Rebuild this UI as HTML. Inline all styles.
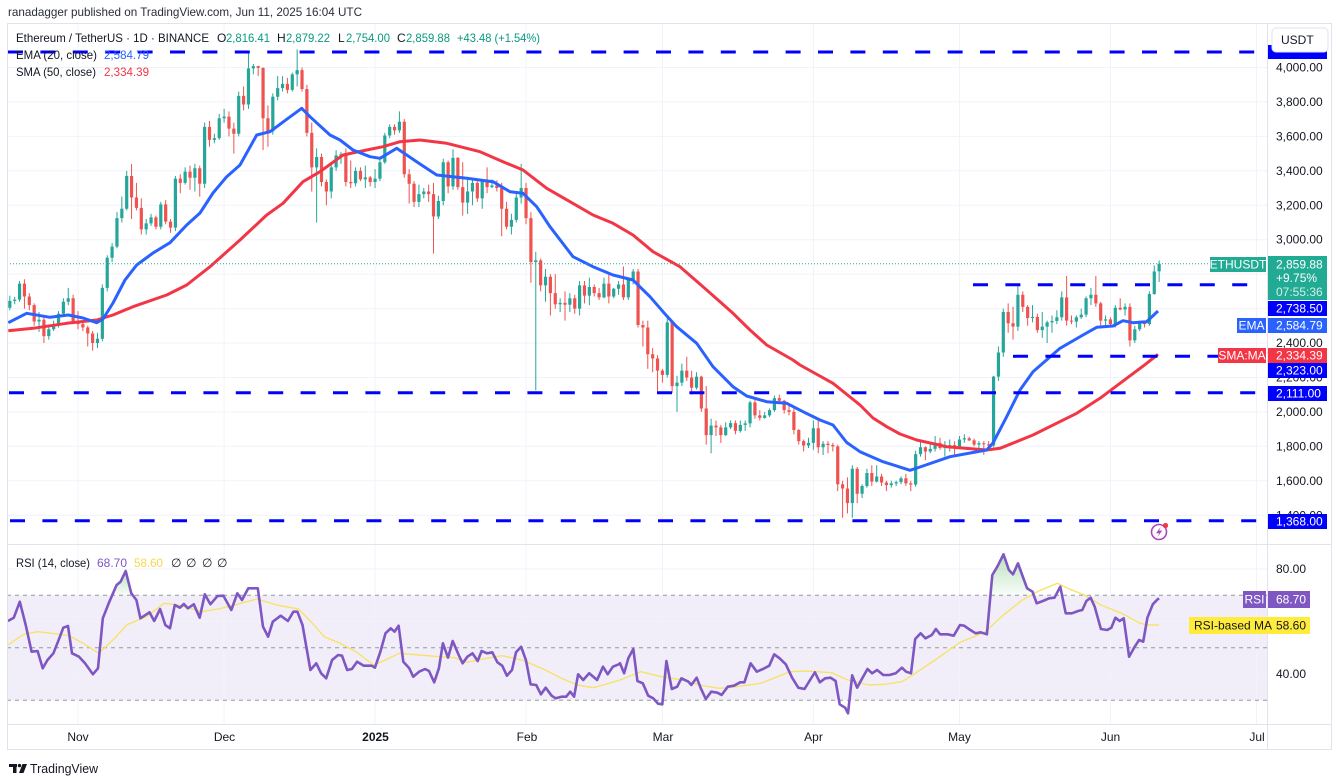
<!DOCTYPE html>
<html><head><meta charset="utf-8">
<style>
html,body{margin:0;padding:0;background:#fff;}
svg{display:block;font-family:"Liberation Sans",sans-serif;}
</style></head>
<body>
<svg width="1338" height="783" viewBox="0 0 1338 783" xmlns="http://www.w3.org/2000/svg">
<defs>
<clipPath id="cp"><rect x="7" y="23" width="1260" height="521"/></clipPath>
<clipPath id="cr"><rect x="7" y="545" width="1260" height="179"/></clipPath>
<clipPath id="ob"><rect x="7" y="545" width="1260" height="50.25"/></clipPath>
<linearGradient id="gg" x1="0" y1="0" x2="0" y2="1"><stop offset="0" stop-color="#4caf50" stop-opacity="0.38"/><stop offset="1" stop-color="#4caf50" stop-opacity="0.04"/></linearGradient>
</defs>
<rect width="1338" height="783" fill="#fff"/>

<!-- RSI band -->
<rect x="7" y="595.25" width="1260" height="105" fill="#7e57c2" fill-opacity="0.1"/>

<!-- grid -->
<g stroke="#f0f3fa" stroke-width="1">
<line x1="78" y1="23" x2="78" y2="724"/>
<line x1="224.1" y1="23" x2="224.1" y2="724"/>
<line x1="375" y1="23" x2="375" y2="724"/>
<line x1="526" y1="23" x2="526" y2="724"/>
<line x1="662.4" y1="23" x2="662.4" y2="724"/>
<line x1="813.4" y1="23" x2="813.4" y2="724"/>
<line x1="959.5" y1="23" x2="959.5" y2="724"/>
<line x1="1110.4" y1="23" x2="1110.4" y2="724"/>
<line x1="1256.5" y1="23" x2="1256.5" y2="724"/>
<line x1="7" y1="67.5" x2="1267" y2="67.5"/>
<line x1="7" y1="101.9" x2="1267" y2="101.9"/>
<line x1="7" y1="136.4" x2="1267" y2="136.4"/>
<line x1="7" y1="170.8" x2="1267" y2="170.8"/>
<line x1="7" y1="205.3" x2="1267" y2="205.3"/>
<line x1="7" y1="239.7" x2="1267" y2="239.7"/>
<line x1="7" y1="274.1" x2="1267" y2="274.1"/>
<line x1="7" y1="308.6" x2="1267" y2="308.6"/>
<line x1="7" y1="343" x2="1267" y2="343"/>
<line x1="7" y1="377.5" x2="1267" y2="377.5"/>
<line x1="7" y1="411.9" x2="1267" y2="411.9"/>
<line x1="7" y1="446.3" x2="1267" y2="446.3"/>
<line x1="7" y1="480.8" x2="1267" y2="480.8"/>
<line x1="7" y1="515.2" x2="1267" y2="515.2"/>
<line x1="7" y1="569" x2="1267" y2="569"/>
<line x1="7" y1="621.5" x2="1267" y2="621.5"/>
<line x1="7" y1="674" x2="1267" y2="674"/>
</g>

<!-- candles -->
<g clip-path="url(#cp)">
<g transform="matrix(4.87 0 0 -0.1722 78 756.3)" fill="none">
<path vector-effect="non-scaling-stroke" stroke="#26a69a" stroke-width="1" d="M-14 2590V2675M-13 2625V2668M-12 2640V2760M-8 2465V2580M-6 2420V2500M-5 2470V2530M-4 2490V2585M-3 2560V2660M-2 2620V2720M4 2370V2460M5 2410V2740M6 2700V2910M7 2870V2980M8 2950V3160M9 3100V3250M10 3170V3400M14 3030V3120M15 3080V3150M17 3060V3220M20 3050V3370M22 3320V3420M24 3280V3440M26 3300V3680M28 3560V3615M29 3580V3730M30 3680V3760M33 3600V3860M35 3760V4090M36 3960V4020M40 3610V3850M41 3810V3950M42 3860V3950M44 3860V3970M45 3890V4105M49 3100V3530M52 3240V3440M53 3400V3520M54 3440V3510M57 3310V3420M59 3300V3430M61 3300V3410M62 3340V3480M63 3440V3620M64 3590V3670M66 3620V3745M70 3190V3320M71 3240V3300M74 3120V3255M75 3200V3470M77 3290V3525M80 3150V3360M81 3200V3350M83 3180V3350M85 3300V3350M89 3030V3150M90 3100V3280M91 3210V3440M94 2125V2930M96 2640V2830M99 2580V2660M101 2580V2690M103 2560V2760M105 2620V2780M108 2660V2780M110 2660V2720M111 2680V2760M113 2650V2780M114 2740V2830M121 2200V2550M123 2000V2210M124 2150V2280M127 2130V2230M130 1760V1960M133 1860V1940M134 1900V1950M136 1880V1950M137 1890V1950M138 1910V2065M141 1960V2000M142 1970V2020M143 2000V2095M150 1790V1850M151 1780V1950M153 1750V1830M159 1385V1690M161 1500V1580M162 1560V1670M164 1590V1690M167 1560V1600M168 1570V1600M169 1580V1625M172 1565V1775M173 1740V1830M175 1760V1820M176 1770V1860M178 1740V1830M179 1770V1840M181 1790V1860M182 1820V1870M185 1790V1830M188 1795V2210M189 2180V2380M190 2320V2600M193 2470V2740M196 2520V2620M198 2430V2580M199 2400V2530M200 2460V2560M201 2510V2590M202 2530V2700M205 2490V2560M206 2540V2600M207 2550V2670M208 2620V2720M211 2500V2560M213 2490V2620M215 2560V2630M217 2400V2500M218 2470V2530M220 2500V2700M221 2680V2850M222 2754V2879"/>
<path vector-effect="non-scaling-stroke" stroke="#26a69a" stroke-width="3.2" d="M-14 2605V2645M-13 2645V2652M-12 2652V2745M-8 2525V2535M-6 2440V2480M-5 2480V2510M-4 2510V2570M-3 2570V2640M-2 2640V2660M4 2400V2425M5 2425V2720M6 2720V2895M7 2895V2960M8 2960V3125M9 3125V3180M10 3180V3370M14 3060V3095M15 3095V3130M17 3075V3205M20 3070V3355M22 3330V3395M24 3360V3415M26 3325V3655M28 3580V3590M29 3590V3705M30 3705V3715M33 3615V3835M35 3785V3995M36 3995V4008M40 3630V3830M41 3830V3880M42 3880V3905M44 3870V3960M45 3960V3985M49 3420V3480M52 3280V3420M53 3420V3490M54 3490V3496M57 3328V3400M59 3350V3362M61 3335V3355M62 3355V3450M63 3450V3605M64 3605V3655M66 3635V3685M70 3220V3265M71 3265V3280M74 3135V3225M75 3225V3450M77 3310V3475M80 3215V3280M81 3280V3330M83 3240V3340M85 3305V3315M89 3075V3115M90 3115V3245M91 3245V3300M94 2870V2880M96 2735V2785M99 2625V2633M101 2622V2660M103 2600V2735M105 2675V2725M108 2665V2745M110 2670V2715M111 2715V2740M113 2665V2765M114 2765V2815M121 2215V2520M123 2150V2170M124 2170V2240M127 2140V2205M130 1865V1920M133 1865V1910M134 1910V1935M136 1890V1925M137 1925V1933M138 1933V2055M141 1965V1980M142 1980V2010M143 2010V2080M150 1805V1820M151 1820V1905M153 1795V1815M159 1470V1670M161 1525V1570M162 1570V1645M164 1595V1625M167 1575V1585M168 1585V1592M169 1592V1615M172 1578V1755M173 1755V1795M175 1770V1785M176 1785V1820M178 1790V1800M179 1800V1807M181 1795V1840M182 1840V1847M185 1810V1818M188 1805V2205M189 2205V2345M190 2345V2580M193 2495V2680M196 2545V2552M198 2475V2495M199 2495V2520M200 2520V2528M201 2528V2550M202 2550V2665M205 2524V2550M206 2550V2565M207 2565V2660M208 2660V2680M211 2530V2537M213 2510V2605M215 2595V2610M217 2415V2480M218 2480V2525M220 2510V2685M221 2685V2815M222 2816V2860"/>
<path vector-effect="non-scaling-stroke" stroke="#ef5350" stroke-width="1" d="M-11 2600V2770M-10 2590V2690M-9 2500V2630M-7 2400V2555M-1 2510V2680M0 2480V2585M1 2470V2520M2 2380V2500M3 2355V2470M11 3120V3440M12 3170V3330M13 3030V3240M16 3060V3140M18 3090V3230M19 3040V3120M21 3270V3380M23 3290V3430M25 3250V3430M27 3540V3690M31 3600V3745M32 3500V3680M34 3750V3890M37 3950V4010M38 3520V4000M39 3540V3780M43 3850V3940M46 3860V4000M47 3600V3900M48 3280V3680M50 3310V3500M51 3200V3350M55 3310V3530M56 3300V3460M58 3340V3420M60 3310V3370M65 3610V3670M67 3360V3700M68 3210V3410M69 3190V3340M72 3220V3320M73 2920V3330M76 3270V3460M78 3290V3480M79 3140V3450M82 3220V3340M84 3270V3420M86 3280V3345M87 3020V3330M88 3060V3220M92 3090V3330M93 2750V3160M95 2700V2890M97 2560V2800M98 2600V2800M100 2530V2700M102 2570V2680M104 2630V2760M106 2670V2740M107 2650V2720M109 2630V2810M112 2650V2845M115 2490V2830M116 2380V2530M117 2250V2530M118 2230V2370M119 2120V2330M120 2170V2250M122 2110V2525M125 2180V2320M126 2100V2240M128 2000V2210M129 1810V2150M131 1860V1950M132 1820V1925M135 1870V1950M139 1960V2070M140 1950V2010M144 2050V2100M145 1990V2070M146 1980V2040M147 1870V2020M148 1810V1900M149 1770V1840M152 1760V1950M154 1760V1830M155 1770V1820M156 1540V1810M157 1385V1600M158 1410V1620M160 1470V1680M163 1570V1690M165 1570V1640M166 1540V1600M170 1570V1640M171 1540V1600M174 1720V1800M177 1780V1850M180 1750V1830M183 1830V1855M184 1800V1845M186 1750V1830M187 1780V1830M191 2460V2630M192 2420V2610M194 2580V2700M195 2500V2620M197 2460V2570M203 2500V2790M204 2510V2560M209 2610V2790M210 2500V2640M212 2490V2550M214 2590V2660M216 2380V2630M219 2490V2530"/>
<path vector-effect="non-scaling-stroke" stroke="#ef5350" stroke-width="3.2" d="M-11 2745V2670M-10 2670V2620M-9 2620V2525M-7 2535V2440M-1 2660V2520M0 2520V2510M1 2510V2490M2 2490V2455M3 2455V2400M11 3370V3245M12 3245V3185M13 3185V3060M16 3130V3075M18 3205V3105M19 3105V3070M21 3355V3330M23 3395V3360M25 3415V3325M27 3655V3580M31 3715V3645M32 3645V3615M34 3835V3785M37 4008V3998M38 3998V3705M39 3705V3630M43 3905V3870M46 3985V3875M47 3875V3620M48 3620V3420M50 3480V3335M51 3335V3280M55 3496V3335M56 3335V3328M58 3400V3350M60 3362V3335M65 3655V3635M67 3685V3380M68 3380V3325M69 3325V3220M72 3280V3265M73 3265V3135M76 3450V3310M78 3475V3305M79 3305V3215M82 3330V3240M84 3340V3305M86 3315V3300M87 3300V3180M88 3180V3075M92 3300V3125M93 3125V2870M95 2880V2735M97 2785V2690M98 2690V2625M100 2633V2622M102 2660V2600M104 2735V2675M106 2725V2690M107 2690V2665M109 2745V2670M112 2740V2665M115 2815V2505M116 2505V2490M117 2490V2335M118 2335V2310M119 2310V2240M120 2240V2215M122 2520V2150M125 2240V2200M126 2200V2140M128 2205V2020M129 2020V1865M131 1920V1910M132 1910V1865M135 1935V1890M139 2055V1980M140 1980V1965M144 2080V2065M145 2065V2010M146 2010V2000M147 2000V1895M148 1895V1830M149 1830V1805M152 1905V1795M154 1815V1808M155 1808V1800M156 1800V1580M157 1580V1555M158 1555V1470M160 1670V1525M163 1645V1595M165 1625V1590M166 1590V1575M170 1615V1585M171 1585V1578M174 1795V1770M177 1820V1790M180 1807V1795M183 1847V1835M184 1835V1810M186 1818V1812M187 1812V1805M191 2580V2515M192 2515V2495M194 2680V2610M195 2610V2545M197 2552V2475M203 2665V2530M204 2530V2524M209 2680V2630M210 2630V2530M212 2537V2510M214 2605V2595M216 2610V2415M219 2525V2510"/>
</g>
<!-- SMA 50 -->
<polyline fill="none" stroke="#f23645" stroke-width="3" stroke-linejoin="round" points="8.3,330.7 33,328.3 66.7,323.3 96.7,320 113,315 133,306.7 166.7,295 186.7,285 210,266.7 240,240 266.7,215 283,203.3 303,181.7 320,171.7 343,155 366.7,150 383,146.7 400,141.7 420,140 446.7,143.3 480,151.7 503,161.7 523,170 546.7,188.3 570,201.7 593,215 613,223.3 633,235 653,251.7 680,266.7 706.7,290 733,313.3 750,330 766.7,345 793,360 800,365 833,383.3 860,405 873,418 886.7,426.7 900,434 916.7,440 946.7,446.7 986.7,450 1000,448.3 1033,435 1076.7,413.3 1100,398.3 1126.7,378.3 1146.7,363.3 1158,354.3"/>
<!-- EMA 20 -->
<polyline fill="none" stroke="#2962ff" stroke-width="3" stroke-linejoin="round" points="8.3,322.7 26.7,313.3 50,317.3 68.3,315 83,318 96.7,322.7 103,319 113,303 125,280 136.7,265 153,253 170,242.7 186.7,225 200,213 213,193 226.7,176.7 240,165 256.7,135 270,131.7 286.7,119.3 301.7,108.3 310,116.7 330,135 340,140 353,150 370,156.7 380,158.3 396.7,148.3 420,164 436.7,175 466.7,178.3 493,181.7 510,191.7 523,193.3 536.7,206.7 550,226.7 573,256.7 593,266.7 613,275 633,280 650,296.7 663,311.7 676.7,326.7 696.7,343.3 713,366.7 733,386.7 746.7,396 766.7,401.7 786.7,403.3 803,411.7 820,420 833,425 846.7,442.5 860,451.7 883,461.7 910,470.3 920,467 950,456.7 986.7,450 993,443 1006.7,416.7 1020,390 1033,371.7 1060,348.3 1083,335 1096.7,327.3 1113,326 1123,320.7 1133,322.7 1146.7,321.7 1158,311"/>
</g>

<!-- last price dotted line -->
<line x1="7" y1="263.8" x2="1210" y2="263.8" stroke="#26a69a" stroke-width="1" stroke-dasharray="1 2"/>

<!-- drawn dashed lines -->
<g stroke="#0000ff" stroke-width="3" stroke-dasharray="15 17.4" fill="none">
<line x1="8" y1="52" x2="1259" y2="52"/>
<line x1="973" y1="284.7" x2="1259" y2="284.7"/>
<line x1="1013" y1="356.3" x2="1259" y2="356.3"/>
<line x1="9" y1="392.8" x2="1259" y2="392.8"/>
<line x1="10" y1="520.7" x2="1259" y2="520.7"/>
</g>

<!-- RSI dashed levels -->
<g stroke="#9598a1" stroke-width="1" stroke-dasharray="4 4">
<line x1="7" y1="595.25" x2="1267" y2="595.25"/>
<line x1="7" y1="647.75" x2="1267" y2="647.75"/>
<line x1="7" y1="700.25" x2="1267" y2="700.25"/>
</g>

<!-- RSI -->
<g clip-path="url(#cr)">
<g clip-path="url(#ob)">
<polygon fill="url(#gg)" points="112,595.25 116.6,585 120.6,581.7 125.7,571 131.3,593.3 132,595.25"/>
<polygon fill="url(#gg)" points="991,595.25 992.3,575 997.3,566.7 1003.5,554.3 1008.9,570 1013,574.3 1018,563.3 1022.2,575 1027.1,588.3 1029.5,595.25"/>
</g>
<polyline fill="none" stroke="#f7e26b" stroke-width="1.4" stroke-linejoin="round" points="7.9,645 23.7,634.3 37.6,631.7 51.4,633.3 69.2,635.7 83,643.3 98.9,653.3 114.7,638.3 126.5,625 146.3,616.7 164.1,603.3 177.9,605 201.7,611.7 221.4,608.3 237.2,604.3 257,599 276.8,605 298.5,609 312.4,623.3 324.2,636.7 340,643.3 355.9,651.7 373.7,665 385.5,660 399.4,653.3 419.1,655 438.9,656.7 454.7,657.7 466.6,662.3 486.4,658.3 502.2,655.7 521.9,660 541.7,668.3 561.5,678.3 577.3,685 593.1,687.7 608.9,683.3 620,680 640.7,671.7 661.5,676.7 682.2,680 702.9,685.7 719.5,688.3 736.1,686.7 761,683.3 777.5,676.7 790,671.7 806.6,671 831.4,672.7 848,680 868.8,685 885.3,684.3 901.9,681.7 910.2,676.7 935.1,660 960,642.3 984.8,632.3 1001.4,616.7 1022.2,600 1038.8,591 1057.4,583.3 1067.7,588.3 1084.3,595 1100.9,605 1121.7,613.3 1138.2,622.3 1146.5,625 1159,625"/>
<polyline fill="none" stroke="#7e57c2" stroke-width="2.6" stroke-linejoin="round" points="7.9,621 13.8,617.7 19.8,601.7 25.7,625 31.6,651.7 37.6,651 42.7,668.3 47.5,660 53.4,653.3 59.3,638.3 63.3,627.7 68,626 72,653.3 79,656.7 85,663.3 92.9,674.3 98,668.3 102.8,618.3 108.7,603.3 116.6,585 120.6,581.7 125.7,571 131.3,593.3 136.4,600 140.4,618.3 149.5,612.3 154.2,621 160.1,609 165.3,625 170,628.3 174.8,605 179.9,607.7 183.9,604 187.8,608.3 193.8,604.3 199.7,617.7 204.8,594.3 210.4,604.3 217.5,596 223.4,595.7 231.3,610 237.3,593.3 242,600 248.3,588.3 257.8,588.3 263,626.7 268.1,636.7 272.8,621.7 280.7,615.7 287.9,621 293.4,611.7 297.4,611.7 302.5,625 310.4,670 316.3,663.3 321.1,673.3 326.2,678.3 332.1,660 338.1,655 342,655.7 347.2,670 351.9,669 357.1,661.7 363.8,665.7 371.7,665.7 374.9,667.7 380.4,651.7 385.5,633.3 390.7,628.3 394.6,631.7 398.6,625.7 403.3,661.7 409.3,668.3 413.2,676.7 419.1,671.7 425.1,669 429,671 434.2,682.3 438.9,668.3 442.9,643.3 448,657.7 452.7,641 458.7,655 462.6,663.3 467.4,656.7 472.5,653.3 477.7,661 481.6,651 487.1,653.3 492.3,652.3 497.4,662.3 502.2,665.7 506.9,675.7 512,670 516,652.3 521.1,646.7 525.9,660 530.6,684.3 536.2,685 540.9,694.3 545.7,687.7 551.6,695.7 555.6,698.3 561.5,696.7 566.2,696.7 570.2,691.7 574.1,696.7 578.1,674.3 583.2,680 589.2,673.3 597.1,680 603,666.7 607.7,674.3 612.9,666.7 618.8,664.3 620,663.3 624.1,673.3 628.3,658.3 633.3,649 637.4,681 642.8,683.3 648.2,695.7 653.2,698.3 658.1,703.7 662.3,704.3 666.4,661 671.8,689 677.2,686.7 681.4,678.3 688.4,681.7 691.3,685 696.7,677.7 700.8,688.3 705.8,699 711.2,691.7 717.4,692.7 721.6,695 727.8,686.7 734,685.7 740.2,682.3 744.4,682.3 750.6,663.3 756.8,671.7 763,669 769.3,665.7 774.2,654.3 779.6,658.3 785.8,664.3 792.1,677.7 798.3,687.7 804.5,689 810.7,679 814.9,672.3 819.8,682.3 825.2,678.3 830.6,677.7 835.6,681 839.7,704.3 845.1,707.7 848,713.3 852.2,675.3 857.1,687.7 861.3,680 867.5,669 872.1,673.3 877.1,670 883.3,675 889.5,675 895.7,673.3 901.9,667.7 906.1,671.7 911,673.3 915.2,639 920.6,633.3 925.5,638.3 931.8,635 935.9,629 940.1,634.3 947.5,634.3 953.7,635.7 960,625 964.1,625.7 970.3,630 975.7,633.3 980.7,632.3 986.9,634.3 992.3,575 997.3,566.7 1003.5,554.3 1008.9,570 1013,574.3 1018,563.3 1022.2,575 1027.1,588.3 1032.5,591.7 1036.7,603.3 1042.9,601 1049.1,598.3 1054.5,597.7 1060.3,586.7 1065.7,613.3 1071.9,613.3 1078.1,611 1082.3,610 1086.4,601 1090.6,597.7 1094.7,606.7 1100.9,629 1107.2,630 1111.3,627.7 1115.4,617.7 1119.6,621 1123.7,618.3 1129.1,656.7 1134.1,647.7 1139.1,640 1143.2,641.7 1147.4,617.7 1152.8,604.3 1156.9,600 1159,598.3"/>
</g>

<!-- frame / separators -->
<g stroke="#e0e3eb" stroke-width="1" fill="none">
<rect x="7.5" y="23.5" width="1324" height="726"/>
<line x1="7" y1="544.5" x2="1332" y2="544.5"/>
<line x1="7" y1="724.5" x2="1332" y2="724.5"/>
<line x1="1267.5" y1="23" x2="1267.5" y2="750"/>
</g>

<!-- title -->
<text x="8" y="16" font-size="12" fill="#2a2e39" textLength="354" lengthAdjust="spacingAndGlyphs">ranadagger published on TradingView.com, Jun 11, 2025 16:04 UTC</text>

<!-- legend -->
<g font-size="12">
<text x="16" y="42" fill="#131722" textLength="193" lengthAdjust="spacingAndGlyphs">Ethereum / TetherUS · 1D · BINANCE</text>
<text x="217" y="42" fill="#131722">O</text><text x="226" y="42" fill="#089981" textLength="44" lengthAdjust="spacingAndGlyphs">2,816.41</text>
<text x="277" y="42" fill="#131722">H</text><text x="286" y="42" fill="#089981" textLength="44" lengthAdjust="spacingAndGlyphs">2,879.22</text>
<text x="338" y="42" fill="#131722">L</text><text x="346" y="42" fill="#089981" textLength="44" lengthAdjust="spacingAndGlyphs">2,754.00</text>
<text x="397" y="42" fill="#131722">C</text><text x="406" y="42" fill="#089981" textLength="44" lengthAdjust="spacingAndGlyphs">2,859.88</text>
<text x="457" y="42" fill="#089981" textLength="83" lengthAdjust="spacingAndGlyphs">+43.48 (+1.54%)</text>
<text x="16" y="59" fill="#131722" textLength="81" lengthAdjust="spacingAndGlyphs">EMA (20, close)</text>
<text x="104" y="59" fill="#2962ff" textLength="45" lengthAdjust="spacingAndGlyphs">2,584.79</text>
<text x="16" y="76" fill="#131722" textLength="80" lengthAdjust="spacingAndGlyphs">SMA (50, close)</text>
<text x="104" y="76" fill="#f23645" textLength="45" lengthAdjust="spacingAndGlyphs">2,334.39</text>
<text x="16" y="567" fill="#131722" textLength="74" lengthAdjust="spacingAndGlyphs">RSI (14, close)</text>
<text x="97" y="567" fill="#7e57c2" textLength="30" lengthAdjust="spacingAndGlyphs">68.70</text>
<text x="134" y="567" fill="#f7d74a" textLength="29" lengthAdjust="spacingAndGlyphs">58.60</text>
<text x="171" y="567" fill="#131722">∅</text>
<text x="186" y="567" fill="#131722">∅</text>
<text x="202" y="567" fill="#131722">∅</text>
<text x="217" y="567" fill="#131722">∅</text>
</g>

<!-- price axis labels -->
<g font-size="12" fill="#131722">
<text x="1276" y="71.5">4,000.00</text>
<text x="1276" y="106">3,800.00</text>
<text x="1276" y="140.4">3,600.00</text>
<text x="1276" y="174.8">3,400.00</text>
<text x="1276" y="209.3">3,200.00</text>
<text x="1276" y="243.7">3,000.00</text>
<text x="1276" y="347.2">2,400.00</text>
<text x="1276" y="381.6">2,200.00</text>
<text x="1276" y="416">2,000.00</text>
<text x="1276" y="450.5">1,800.00</text>
<text x="1276" y="484.9">1,600.00</text>
<text x="1276" y="519.4">1,400.00</text>
<text x="1276" y="573">80.00</text>
<text x="1276" y="678">40.00</text>
</g>

<!-- axis boxes -->
<rect x="1268" y="45" width="59" height="14" fill="#0000ff"/>
<rect x="1272" y="28" width="56" height="24" rx="4" fill="#fff" stroke="#e0e3eb"/>
<text x="1281" y="44" font-size="12" fill="#131722">USDT</text>

<rect x="1210" y="257" width="56" height="15" fill="#22ab94"/>
<text x="1238" y="268.5" font-size="12" fill="#fff" text-anchor="middle">ETHUSDT</text>
<rect x="1268" y="256" width="59" height="44" fill="#22ab94"/>
<text x="1276" y="268.5" font-size="12" fill="#fff">2,859.88</text>
<text x="1276" y="282" font-size="12" fill="#fff">+9.75%</text>
<text x="1276" y="296" font-size="12" fill="#fff" fill-opacity="0.8">07:55:36</text>

<rect x="1268" y="301" width="59" height="15" fill="#0000ff"/>
<text x="1276" y="312.5" font-size="12" fill="#fff">2,738.50</text>

<rect x="1237" y="318" width="29" height="15" fill="#2962ff"/>
<text x="1251.5" y="329.5" font-size="12" fill="#fff" text-anchor="middle">EMA</text>
<rect x="1268" y="318" width="59" height="15" fill="#2962ff"/>
<text x="1276" y="329.5" font-size="12" fill="#fff">2,584.79</text>

<rect x="1218" y="348" width="48" height="15" fill="#f23645"/>
<text x="1242" y="359.5" font-size="12" fill="#fff" text-anchor="middle">SMA:MA</text>
<rect x="1268" y="348" width="59" height="15" fill="#f23645"/>
<text x="1276" y="359.5" font-size="12" fill="#fff">2,334.39</text>

<rect x="1268" y="363" width="59" height="15" fill="#0000ff"/>
<text x="1276" y="374.5" font-size="12" fill="#fff">2,323.00</text>

<rect x="1268" y="386" width="59" height="15" fill="#0000ff"/>
<text x="1276" y="397.5" font-size="12" fill="#fff">2,111.00</text>

<rect x="1268" y="514" width="59" height="15" fill="#0000ff"/>
<text x="1276" y="525.5" font-size="12" fill="#fff">1,368.00</text>

<rect x="1243" y="591" width="23" height="17" fill="#7e57c2"/>
<text x="1254.5" y="603.5" font-size="12" fill="#fff" text-anchor="middle">RSI</text>
<rect x="1268" y="591" width="42" height="17" fill="#7e57c2"/>
<text x="1276" y="603.5" font-size="12" fill="#fff">68.70</text>

<rect x="1189" y="617" width="121" height="17" fill="#ffeb3b"/>
<text x="1194" y="629.5" font-size="12" fill="#131722">RSI-based MA</text>
<text x="1276" y="629.5" font-size="12" fill="#131722">58.60</text>

<!-- lightning icon -->
<circle cx="1159" cy="532" r="7.5" fill="#fff" stroke="#ab47bc" stroke-width="1.6"/>
<path d="M1160.8 526.8 L1156 533.2 L1159.2 533.2 L1157.3 537.4 L1162.2 530.6 L1159.1 530.6 Z" fill="#ab47bc"/>
<circle cx="1165.5" cy="525.5" r="2.6" fill="#f23645"/>

<!-- time axis -->
<g font-size="12" fill="#131722" text-anchor="middle">
<text x="78" y="741">Nov</text>
<text x="224.5" y="741">Dec</text>
<text x="375.5" y="741" font-weight="bold">2025</text>
<text x="527" y="741">Feb</text>
<text x="663" y="741">Mar</text>
<text x="813.5" y="741">Apr</text>
<text x="959.5" y="741">May</text>
<text x="1110.5" y="741">Jun</text>
<text x="1257" y="741">Jul</text>
</g>

<!-- TradingView logo -->
<g fill="#131722">
<rect x="9" y="764" width="8" height="3"/>
<rect x="13" y="764" width="3.5" height="9"/>
<circle cx="19.5" cy="765.6" r="1.7"/>
<path d="M22.5 764 L27 764 L23.5 773 L19 773 Z"/>
</g>
<text x="30" y="773" font-size="13" fill="#131722" textLength="68" lengthAdjust="spacingAndGlyphs">TradingView</text>
</svg>
</body></html>
